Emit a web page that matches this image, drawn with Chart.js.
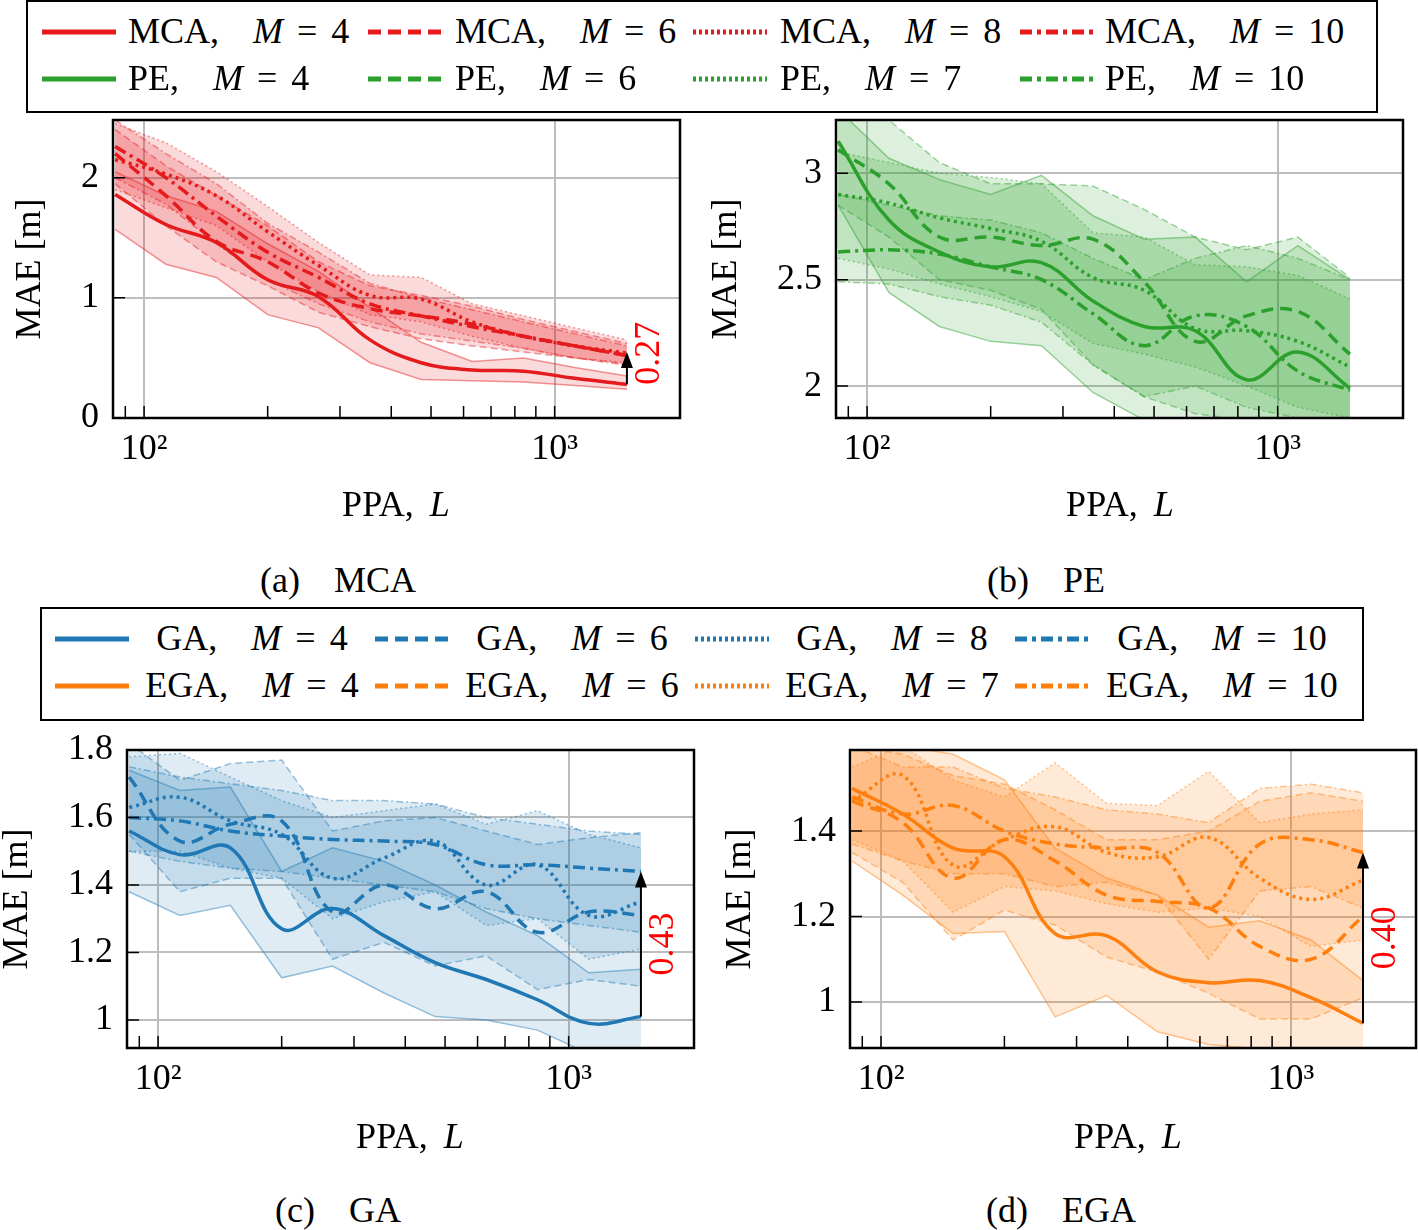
<!DOCTYPE html>
<html><head><meta charset="utf-8">
<script src="https://cdn.jsdelivr.net/npm/chart.js@4.4.1/dist/chart.umd.min.js"></script>
<style>
body{margin:0;width:1418px;height:1230px;position:relative;background:#fff;font-family:'Liberation Serif',serif;overflow:hidden}
canvas{position:absolute}
.t{position:absolute;font-size:36px;line-height:36px;white-space:nowrap;color:#000}
.box{position:absolute;border:2px solid #000;box-sizing:border-box}
.g1{display:inline-block;width:34px}.g2{display:inline-block;width:14px}.g3{display:inline-block;width:16px}
svg{position:absolute;overflow:visible}
</style></head><body>
<div class="box" style="left:26px;top:0;width:1352px;height:113px"></div>
<div class="box" style="left:40px;top:607px;width:1324px;height:114px"></div>
<canvas id="ca" width="700" height="450" style="left:0;top:80px"></canvas>
<canvas id="cb" width="718" height="450" style="left:700px;top:80px"></canvas>
<canvas id="cc" width="710" height="450" style="left:0;top:710px"></canvas>
<canvas id="cd" width="708" height="450" style="left:710px;top:710px"></canvas>
<div id="overlay"></div>
<script>
// ---------- data ----------
const PPA = [85, 113, 150, 200, 266, 355, 473, 630, 840, 1120, 1500];
const XTICKS = [90, 100, 200, 300, 400, 500, 600, 700, 800, 900, 1000];

// (a) MCA
const mca4   = [1.86, 1.61, 1.46, 1.15, 1.01, 0.65, 0.46, 0.40, 0.39, 0.33, 0.28];
const mca4Lo = [1.57, 1.28, 1.17, 0.86, 0.75, 0.46, 0.32, 0.31, 0.30, 0.27, 0.24];
const mca4Hi = [2.05, 1.85, 1.72, 1.45, 1.22, 0.92, 0.63, 0.47, 0.50, 0.42, 0.35];
const mca6   = [2.20, 1.85, 1.47, 1.30, 1.04, 0.91, 0.85, 0.78, 0.68, 0.60, 0.52];
const mca6Lo = [1.95, 1.60, 1.30, 1.10, 0.88, 0.76, 0.66, 0.60, 0.55, 0.50, 0.45];
const mca6Hi = [2.40, 2.10, 1.85, 1.60, 1.30, 1.10, 1.02, 0.93, 0.82, 0.72, 0.62];
const mca8   = [2.15, 2.03, 1.85, 1.55, 1.27, 1.02, 0.99, 0.80, 0.68, 0.60, 0.54];
const mca8Lo = [1.90, 1.75, 1.60, 1.30, 1.05, 0.86, 0.80, 0.68, 0.58, 0.50, 0.46];
const mca8Hi = [2.45, 2.29, 2.05, 1.76, 1.46, 1.19, 1.17, 0.95, 0.85, 0.75, 0.65];
const mca10   = [2.26, 2.00, 1.68, 1.38, 1.17, 0.95, 0.85, 0.76, 0.68, 0.60, 0.52];
const mca10Lo = [2.00, 1.78, 1.45, 1.15, 0.95, 0.80, 0.70, 0.64, 0.58, 0.50, 0.44];
const mca10Hi = [2.48, 2.20, 1.95, 1.62, 1.38, 1.12, 1.00, 0.90, 0.80, 0.70, 0.60];

// (b) PE
const pe4   = [3.15, 2.78, 2.63, 2.56, 2.58, 2.40, 2.28, 2.26, 2.03, 2.16, 1.99];
const pe4Lo = [2.85, 2.44, 2.28, 2.21, 2.19, 1.97, 1.84, 1.80, 1.78, 1.76, 1.74];
const pe4Hi = [3.30, 3.07, 2.97, 2.90, 2.99, 2.80, 2.69, 2.70, 2.49, 2.66, 2.50];
const pe6   = [3.11, 2.95, 2.70, 2.70, 2.66, 2.69, 2.49, 2.21, 2.33, 2.35, 2.15];
const pe6Lo = [2.85, 2.70, 2.50, 2.45, 2.36, 2.10, 1.95, 1.87, 1.84, 1.82, 1.80];
const pe6Hi = [3.30, 3.25, 3.05, 2.95, 2.95, 2.94, 2.83, 2.70, 2.64, 2.70, 2.51];
const pe7   = [2.90, 2.86, 2.79, 2.74, 2.68, 2.51, 2.45, 2.27, 2.26, 2.21, 2.09];
const pe7Lo = [2.60, 2.55, 2.48, 2.42, 2.35, 2.20, 2.15, 2.09, 2.00, 1.90, 1.85];
const pe7Hi = [3.10, 3.05, 3.00, 2.98, 2.95, 2.72, 2.70, 2.57, 2.56, 2.52, 2.41];
const pe10   = [2.63, 2.64, 2.62, 2.56, 2.50, 2.34, 2.19, 2.33, 2.28, 2.07, 1.98];
const pe10Lo = [2.49, 2.48, 2.42, 2.38, 2.30, 2.10, 1.95, 2.00, 1.90, 1.85, 1.80];
const pe10Hi = [2.90, 2.85, 2.80, 2.78, 2.72, 2.60, 2.50, 2.60, 2.66, 2.60, 2.50];

// (c) GA
const ga4   = [1.56, 1.49, 1.51, 1.27, 1.33, 1.25, 1.17, 1.12, 1.06, 0.99, 1.01];
const ga4Lo = [1.38, 1.31, 1.34, 1.125, 1.16, 1.08, 1.01, 1.00, 0.97, 0.90, 0.88];
const ga4Hi = [1.74, 1.68, 1.69, 1.44, 1.51, 1.47, 1.40, 1.32, 1.25, 1.14, 1.15];
const ga6   = [1.72, 1.53, 1.58, 1.59, 1.32, 1.40, 1.33, 1.38, 1.26, 1.32, 1.31];
const ga6Lo = [1.55, 1.38, 1.42, 1.42, 1.18, 1.23, 1.16, 1.19, 1.09, 1.12, 1.10];
const ga6Hi = [1.82, 1.71, 1.76, 1.77, 1.56, 1.59, 1.60, 1.56, 1.52, 1.54, 1.555];
const ga8   = [1.63, 1.66, 1.59, 1.55, 1.42, 1.48, 1.53, 1.40, 1.46, 1.31, 1.35];
const ga8Lo = [1.50, 1.50, 1.45, 1.42, 1.30, 1.35, 1.38, 1.28, 1.30, 1.18, 1.21];
const ga8Hi = [1.78, 1.79, 1.72, 1.65, 1.60, 1.62, 1.64, 1.58, 1.62, 1.55, 1.51];
const ga10   = [1.60, 1.59, 1.56, 1.545, 1.535, 1.53, 1.52, 1.46, 1.46, 1.45, 1.44];
const ga10Lo = [1.50, 1.47, 1.45, 1.44, 1.42, 1.40, 1.38, 1.33, 1.30, 1.28, 1.26];
const ga10Hi = [1.75, 1.72, 1.70, 1.68, 1.65, 1.65, 1.64, 1.60, 1.58, 1.56, 1.55];

// (d) EGA
const ega4   = [1.50, 1.44, 1.36, 1.34, 1.16, 1.155, 1.07, 1.045, 1.05, 1.01, 0.95];
const ega4Lo = [1.33, 1.25, 1.16, 1.165, 0.965, 1.015, 0.93, 0.90, 0.89, 0.87, 0.85];
const ega4Hi = [1.60, 1.60, 1.58, 1.52, 1.36, 1.29, 1.25, 1.175, 1.19, 1.145, 1.05];
const ega6   = [1.47, 1.42, 1.29, 1.38, 1.33, 1.25, 1.235, 1.22, 1.13, 1.10, 1.20];
const ega6Lo = [1.35, 1.28, 1.145, 1.215, 1.18, 1.105, 1.07, 1.02, 0.96, 0.96, 1.01];
const ega6Hi = [1.60, 1.58, 1.53, 1.51, 1.45, 1.38, 1.38, 1.40, 1.47, 1.49, 1.47];
const ega7   = [1.47, 1.53, 1.32, 1.38, 1.41, 1.35, 1.34, 1.385, 1.29, 1.24, 1.285];
const ega7Lo = [1.38, 1.33, 1.21, 1.27, 1.26, 1.23, 1.21, 1.22, 1.20, 1.13, 1.145];
const ega7Hi = [1.55, 1.60, 1.52, 1.48, 1.56, 1.465, 1.46, 1.54, 1.42, 1.44, 1.45];
const ega10   = [1.48, 1.44, 1.46, 1.40, 1.37, 1.36, 1.35, 1.22, 1.37, 1.38, 1.35];
const ega10Lo = [1.37, 1.33, 1.30, 1.30, 1.27, 1.28, 1.25, 1.10, 1.26, 1.27, 1.22];
const ega10Hi = [1.60, 1.55, 1.55, 1.50, 1.48, 1.45, 1.44, 1.42, 1.50, 1.51, 1.49];

const YT_A = [0, 1, 2];
const YT_B = [2, 2.5, 3];
const YT_C = [1, 1.2, 1.4, 1.6, 1.8];
const YT_D = [1, 1.2, 1.4];

const GAP_A = ['0.27', 0.55];
const GAP_C = ['0.43', 1.44];
const GAP_D = ['0.40', 1.35];

const LEG1_NAMES = ['MCA', 'PE'];
const LEG1_M = [['4', '6', '8', '10'], ['4', '6', '7', '10']];
const LEG2_NAMES = ['GA', 'EGA'];
const LEG2_M = [['4', '6', '8', '10'], ['4', '6', '7', '10']];
const CAPTIONS = ['(a)', 'MCA', '(b)', 'PE', '(c)', 'GA', '(d)', 'EGA'];

// ---------- styles ----------
const FONT = 'Liberation Serif';
const FS = 36;
const GRID = '#bdbdbd';
const RED = '#e41a1c', GREEN = '#2ca02c', BLUE = '#1f77b4', ORANGE = '#ff7f0e';
const STY = ['solid', 'dashed', 'dotted', 'dashdot'];
const DASH = {solid: {m: [], e: [], l: ''}, dashed: {m: [12, 7], e: [7, 4], l: '13 7'},
  dotted: {m: [3, 4], e: [2, 3], l: '3 3'}, dashdot: {m: [12, 5, 3, 5], e: [7, 3, 2, 3], l: '12 5 4 5'}};
function hexA(hex, a) { const n = parseInt(hex.slice(1), 16); return `rgba(${n >> 16},${(n >> 8) & 255},${n & 255},${a})`; }

const framePlugin = {
  id: 'frame',
  afterDraw(chart, args, opts) {
    const {ctx, chartArea: a, scales: {x, y}} = chart;
    ctx.save();
    ctx.strokeStyle = '#000'; ctx.lineWidth = 1.5;
    ctx.beginPath();
    XTICKS.forEach(v => { const px = x.getPixelForValue(v); ctx.moveTo(px, a.bottom); ctx.lineTo(px, a.bottom - 12); });
    y.ticks.forEach(t => { const py = y.getPixelForValue(t.value); ctx.moveTo(a.left, py); ctx.lineTo(a.left + 12, py); });
    ctx.stroke();
    ctx.lineWidth = 2.5;
    ctx.strokeRect(a.left, a.top, a.right - a.left, a.bottom - a.top);
    const g = opts.gap;
    if (g) {
      const px = x.getPixelForValue(g.x), y1 = y.getPixelForValue(g.from), y2 = y.getPixelForValue(g.to);
      ctx.lineWidth = 2; ctx.beginPath(); ctx.moveTo(px, y1); ctx.lineTo(px, y2 + 12); ctx.stroke();
      ctx.fillStyle = '#000'; ctx.beginPath(); ctx.moveTo(px, y2); ctx.lineTo(px - 6, y2 + 16); ctx.lineTo(px + 6, y2 + 16); ctx.closePath(); ctx.fill();
      ctx.translate(px + g.dx, (y1 + y2) / 2 + g.dy); ctx.rotate(-Math.PI / 2);
      ctx.fillStyle = '#ff0000'; ctx.font = `${FS}px "${FONT}"`; ctx.textAlign = 'center'; ctx.textBaseline = 'middle';
      ctx.fillText(g.text, 0, 0);
    }
    ctx.restore();
  }
};

function pts(arr) { return PPA.map((x, i) => ({x, y: arr[i]})); }

function makeChart(id, p) {
  const ds = [];
  p.series.forEach((s, k) => {
    const d = DASH[STY[k]];
    ds.push({data: pts(s[1]), borderColor: hexA(p.color, 0.45), borderWidth: 1.5, borderDash: d.e, pointRadius: 0, tension: 0, fill: false, order: 1});
    ds.push({data: pts(s[2]), borderColor: hexA(p.color, 0.45), borderWidth: 1.5, borderDash: d.e, pointRadius: 0, tension: 0,
      fill: '-1', backgroundColor: hexA(p.color, p.alpha), order: 1});
  });
  p.series.forEach((s, k) => {
    ds.push({data: pts(s[0]), borderColor: p.color, borderWidth: 3.5, borderDash: DASH[STY[k]].m, pointRadius: 0, tension: 0.4, fill: false, order: 0});
  });
  const first = p.series[0][0];
  const gap = p.gap ? {x: PPA[PPA.length - 1], from: first[first.length - 1], to: p.gap[1], text: p.gap[0], dx: 23, dy: p.gdy} : null;
  new Chart(document.getElementById(id), {
    type: 'line',
    data: {datasets: ds},
    plugins: [framePlugin],
    options: {
      responsive: false, animation: false, devicePixelRatio: 1,
      layout: {padding: {top: 40, right: p.rpad, left: 0, bottom: 0}},
      plugins: {legend: {display: false}, tooltip: {enabled: false}, frame: {gap: gap}},
      scales: {
        x: {type: 'logarithmic', min: 84, max: 2020,
          afterBuildTicks: s => { s.ticks = XTICKS.map(v => ({value: v})); },
          afterFit: s => { s.height = 112; },
          grid: {color: c => (c.tick && (c.tick.value === 100 || c.tick.value === 1000)) ? GRID : 'rgba(0,0,0,0)', lineWidth: 2, drawTicks: false},
          border: {display: false},
          ticks: {autoSkip: false, maxRotation: 0, minRotation: 0, padding: 10, color: '#000', font: {family: FONT, size: FS},
            callback: v => v === 100 ? '10²' : (v === 1000 ? '10³' : '')}},
        y: {min: p.ymin, max: p.ymax,
          afterBuildTicks: s => { s.ticks = p.yt.map(v => ({value: v})); },
          afterFit: s => { s.width = p.yw; },
          grid: {color: GRID, lineWidth: 2, drawTicks: false},
          border: {display: false},
          ticks: {padding: 14, color: '#000', font: {family: FONT, size: FS}, callback: v => String(+(+v).toFixed(2))},
          title: {display: true, text: 'MAE [m]', color: '#000', font: {family: FONT, size: FS, lineHeight: 1}, padding: {top: p.tpad, bottom: 0}}}
      }
    }
  });
}

makeChart('ca', {color: RED, alpha: 0.16, ymin: 0, ymax: 2.48, yt: YT_A, yw: 113, rpad: 20, tpad: 13, gap: GAP_A, gdy: -15,
  series: [[mca4, mca4Lo, mca4Hi], [mca6, mca6Lo, mca6Hi], [mca8, mca8Lo, mca8Hi], [mca10, mca10Lo, mca10Hi]]});
makeChart('cb', {color: GREEN, alpha: 0.16, ymin: 1.85, ymax: 3.25, yt: YT_B, yw: 136, rpad: 15, tpad: 9, gap: null, gdy: 0,
  series: [[pe4, pe4Lo, pe4Hi], [pe6, pe6Lo, pe6Hi], [pe7, pe7Lo, pe7Hi], [pe10, pe10Lo, pe10Hi]]});
makeChart('cc', {color: BLUE, alpha: 0.14, ymin: 0.917, ymax: 1.8, yt: YT_C, yw: 127, rpad: 16, tpad: 0, gap: GAP_C, gdy: 0,
  series: [[ga4, ga4Lo, ga4Hi], [ga6, ga6Lo, ga6Hi], [ga8, ga8Lo, ga8Hi], [ga10, ga10Lo, ga10Hi]]});
makeChart('cd', {color: ORANGE, alpha: 0.16, ymin: 0.892, ymax: 1.59, yt: YT_D, yw: 140, rpad: 2, tpad: 13, gap: GAP_D, gdy: 0,
  series: [[ega4, ega4Lo, ega4Hi], [ega6, ega6Lo, ega6Hi], [ega7, ega7Lo, ega7Hi], [ega10, ega10Lo, ega10Hi]]});

// ---------- HTML text: legends, axis titles, captions ----------
const ov = document.getElementById('overlay');
function addText(html, left, cy, center) {
  const d = document.createElement('div'); d.className = 't'; d.innerHTML = html;
  d.style.left = left + 'px'; d.style.top = (cy - FS / 2) + 'px';
  if (center) d.style.transform = 'translateX(-50%)';
  ov.appendChild(d);
}
function addSample(left, cy, color, style) {
  const ns = 'http://www.w3.org/2000/svg';
  const s = document.createElementNS(ns, 'svg'); s.setAttribute('width', '74'); s.setAttribute('height', '10');
  s.style.left = left + 'px'; s.style.top = (cy - 5) + 'px';
  const l = document.createElementNS(ns, 'line');
  l.setAttribute('x1', '0'); l.setAttribute('x2', '74'); l.setAttribute('y1', '5'); l.setAttribute('y2', '5');
  l.setAttribute('stroke', color); l.setAttribute('stroke-width', '5');
  if (DASH[style].l) l.setAttribute('stroke-dasharray', DASH[style].l);
  s.appendChild(l); ov.appendChild(s);
}
function lab(name, m) { return `${name},<span class="g1"></span><i>M</i><span class="g2"></span>=<span class="g2"></span>${m}`; }

const L1_SX = [42, 368, 693, 1020], L1_TX = [128, 455, 780, 1105], L1_CY = [31, 78];
[RED, GREEN].forEach((c, r) => {
  for (let k = 0; k < 4; k++) { addSample(L1_SX[k], L1_CY[r] + 1, c, STY[k]); addText(lab(LEG1_NAMES[r], LEG1_M[r][k]), L1_TX[k], L1_CY[r], false); }
});
const L2_SX = [55, 375, 695, 1015], L2_TC = [252, 572, 892, 1222], L2_CY = [638, 685];
[BLUE, ORANGE].forEach((c, r) => {
  for (let k = 0; k < 4; k++) { addSample(L2_SX[k], L2_CY[r] + 1, c, STY[k]); addText(lab(LEG2_NAMES[r], LEG2_M[r][k]), L2_TC[k], L2_CY[r], true); }
});
// x-axis titles
[[396, 504], [1120, 504], [410, 1136], [1128, 1136]].forEach(p => addText('PPA,<span class="g3"></span><i>L</i>', p[0], p[1], true));
// captions
[[260, 580], [987, 580], [275, 1210], [986, 1210]].forEach((p, i) =>
  addText(`${CAPTIONS[2 * i]}<span class="g1"></span>${CAPTIONS[2 * i + 1]}`, p[0], p[1], false));
</script>
</body></html>
